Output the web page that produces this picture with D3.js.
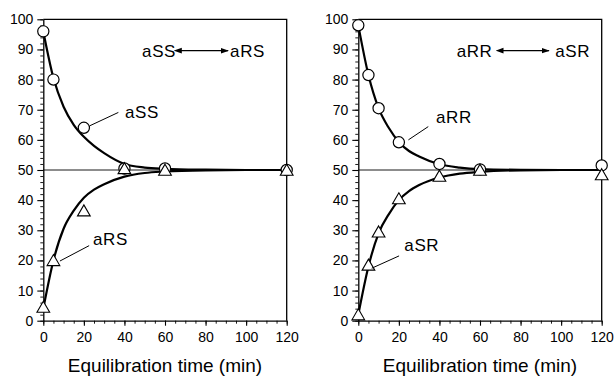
<!DOCTYPE html>
<html>
<head>
<meta charset="utf-8">
<script src="https://cdn.jsdelivr.net/npm/d3@7"></script>
<style>
  html, body { margin: 0; padding: 0; background: #fff; }
  svg { display: block; font-family: "Liberation Sans", Arial, Helvetica, sans-serif; }
</style>
</head>
<body>
<svg id="chart" width="614" height="377"></svg>
<script>
// ---------- data ----------
const xTicks = [0, 20, 40, 60, 80, 100, 120];
const yTicks = [0, 10, 20, 30, 40, 50, 60, 70, 80, 90, 100];
const xLabel = "Equilibration time (min)";

// Left panel: aSS <-> aRS
const aSS_t = [0, 5, 20, 40, 60, 120];
const aSS_v = [96, 80, 64, 50.5, 50.5, 50];
const aRS_t = [0, 5, 20, 40, 60, 120];
const aRS_v = [4, 19.5, 36, 50, 49.5, 49.5];
// fitted curves
const fitT = [0, 5, 10, 15, 20, 25, 30, 40, 50, 60, 80, 100, 120];
const aSS_fit = [96, 80.5, 71, 65, 61, 58, 55.6, 52, 50.8, 50.4, 50.1, 50, 50];
const aRS_fit = [4, 20, 30.5, 36.5, 40.8, 43.5, 45.3, 47.8, 49, 49.5, 49.9, 50, 50];

// Right panel: aRR <-> aSR
const aRR_t = [0, 5, 10, 20, 40, 60, 120];
const aRR_v = [98, 81.5, 70.5, 59.2, 52, 50.2, 51.5];
const aSR_t = [0, 5, 10, 20, 40, 60, 120];
const aSR_v = [1.5, 18, 29, 40, 47.5, 49.5, 48];
const aRR_fit = [98, 81.5, 70.5, 64, 59.3, 56.3, 54.5, 51.9, 50.8, 50.3, 50.05, 50, 50];
const aSR_fit = [2, 18, 29, 35.3, 40, 43, 45, 47.5, 48.8, 49.4, 49.9, 50, 50];

const refLevel = 50;

// annotations (data coordinates)
const panels = [
  {
    x0: 43.3, x1: 286.7,
    circT: aSS_t, circV: aSS_v, triT: aRS_t, triV: aRS_v,
    circFit: aSS_fit, triFit: aRS_fit,
    titleL: "aSS", titleR: "aRS", titleLt: 48.7, arrowT: [67.9, 91.1], titleRt: 92.1,
    circLabel: "aSS", circLabelPos: [40.3, 67.3], circLeader: [[23.0, 64.7], [37.0, 69.1]],
    triLabel: "aRS", triLabelPos: [24.5, 25.1], triLeader: [[8.2, 19.8], [22.6, 24.9]]
  },
  {
    x0: 358.3, x1: 601.7,
    circT: aRR_t, circV: aRR_v, triT: aSR_t, triV: aSR_v,
    circFit: aRR_fit, triFit: aSR_fit,
    titleL: "aRR", titleR: "aSR", titleLt: 48.5, arrowT: [71.2, 94.0], titleRt: 97.1,
    circLabel: "aRR", circLabelPos: [38.3, 65.6], circLeader: [[24.7, 60.0], [34.5, 64.4]],
    triLabel: "aSR", triLabelPos: [22.7, 23.1], triLeader: [[6.6, 17.4], [20.1, 21.5]]
  }
];

// ---------- drawing ----------
const svg = d3.select("#chart");
const yTop = 19.3, yBot = 320.7;

const defs = svg.append("defs");
["start", "end"].forEach(k => {
  defs.append("marker")
    .attr("id", "arr-" + k)
    .attr("viewBox", "0 0 10 10")
    .attr("refX", k === "end" ? 9 : 1).attr("refY", 5)
    .attr("markerWidth", 8).attr("markerHeight", 8)
    .attr("markerUnits", "userSpaceOnUse")
    .attr("orient", k === "end" ? "auto" : "auto-start-reverse")
    .append("path").attr("d", "M0,1.5 L10,5 L0,8.5 Z").attr("fill", "#000");
});

panels.forEach(p => {
  const x = d3.scaleLinear().domain([0, 120]).range([p.x0, p.x1]);
  const y = d3.scaleLinear().domain([0, 100]).range([yBot, yTop]);
  const g = svg.append("g");

  // minor ticks
  g.append("g").attr("transform", `translate(0,${yBot})`)
    .call(d3.axisBottom(x).tickValues(d3.range(0, 121, 5)).tickSize(3).tickFormat(""))
    .call(s => s.select(".domain").remove())
    .call(s => s.selectAll("line").attr("stroke-width", 0.9));
  g.append("g").attr("transform", `translate(${p.x0},0)`)
    .call(d3.axisLeft(y).tickValues(d3.range(0, 101, 2)).tickSize(3).tickFormat(""))
    .call(s => s.select(".domain").remove())
    .call(s => s.selectAll("line").attr("stroke-width", 0.9));

  // major axes
  const xa = g.append("g").attr("transform", `translate(0,${yBot})`)
    .call(d3.axisBottom(x).tickValues(xTicks).tickSize(5).tickPadding(6).tickSizeOuter(0));
  const ya = g.append("g").attr("transform", `translate(${p.x0},0)`)
    .call(d3.axisLeft(y).tickValues(yTicks).tickSize(6).tickPadding(4).tickSizeOuter(0));
  [xa, ya].forEach(a => {
    a.selectAll("text").attr("font-size", 14).attr("fill", "#000")
      .attr("font-family", "'Liberation Sans', Arial, sans-serif");
    a.selectAll("line").attr("stroke-width", 1.1);
    a.select(".domain").attr("stroke-width", 1.3);
  });

  // top & right frame
  g.append("path")
    .attr("d", `M${x(0)},${y(100)} L${x(120)},${y(100)} L${x(120)},${y(0)}`)
    .attr("fill", "none").attr("stroke", "#000").attr("stroke-width", 1.3);

  // reference line at 50
  g.append("line")
    .attr("x1", x(0)).attr("x2", x(120)).attr("y1", y(refLevel)).attr("y2", y(refLevel))
    .attr("stroke", "#000").attr("stroke-width", 0.9);

  // fitted curves
  const line = d3.line().x(d => x(d[0])).y(d => y(d[1])).curve(d3.curveMonotoneX);
  [p.circFit, p.triFit].forEach(vals => {
    g.append("path").datum(fitT.map((t, i) => [t, vals[i]]))
      .attr("d", line).attr("fill", "none").attr("stroke", "#000")
      .attr("stroke-width", 2.2).attr("stroke-linejoin", "round");
  });

  // circles
  g.selectAll(".c").data(p.circT.map((t, i) => [t, p.circV[i]])).enter()
    .append("circle")
    .attr("cx", d => x(d[0])).attr("cy", d => y(d[1])).attr("r", 5.6)
    .attr("fill", "#fff").attr("stroke", "#000").attr("stroke-width", 1.2);

  // triangles
  const tri = d3.symbol().type(d3.symbolTriangle).size(70);
  g.selectAll(".t").data(p.triT.map((t, i) => [t, p.triV[i]])).enter()
    .append("path")
    .attr("d", tri)
    .attr("transform", d => `translate(${x(d[0])},${y(d[1])})`)
    .attr("fill", "#fff").attr("stroke", "#000").attr("stroke-width", 1.1)
    .attr("stroke-linejoin", "miter");

  // leaders
  [p.circLeader, p.triLeader].forEach(L => {
    g.append("line")
      .attr("x1", x(L[0][0])).attr("y1", y(L[0][1]))
      .attr("x2", x(L[1][0])).attr("y2", y(L[1][1]))
      .attr("stroke", "#000").attr("stroke-width", 1);
  });

  const lab = (txt, t, v) => g.append("text").text(txt)
    .attr("x", x(t)).attr("y", y(v))
    .attr("font-size", 17).attr("letter-spacing", 0.6).attr("fill", "#000");

  lab(p.circLabel, p.circLabelPos[0], p.circLabelPos[1]);
  lab(p.triLabel, p.triLabelPos[0], p.triLabelPos[1]);

  // title with double arrow
  lab(p.titleL, p.titleLt, 87.6);
  lab(p.titleR, p.titleRt, 87.6);
  g.append("line")
    .attr("x1", x(p.arrowT[0])).attr("x2", x(p.arrowT[1]))
    .attr("y1", y(89.6)).attr("y2", y(89.6))
    .attr("stroke", "#000").attr("stroke-width", 1.2)
    .attr("marker-start", "url(#arr-start)").attr("marker-end", "url(#arr-end)");

  // x axis label
  g.append("text").text(xLabel)
    .attr("x", (p.x0 + p.x1) / 2).attr("y", 372)
    .attr("text-anchor", "middle").attr("font-size", 19).attr("fill", "#000");
});
</script>
</body>
</html>
